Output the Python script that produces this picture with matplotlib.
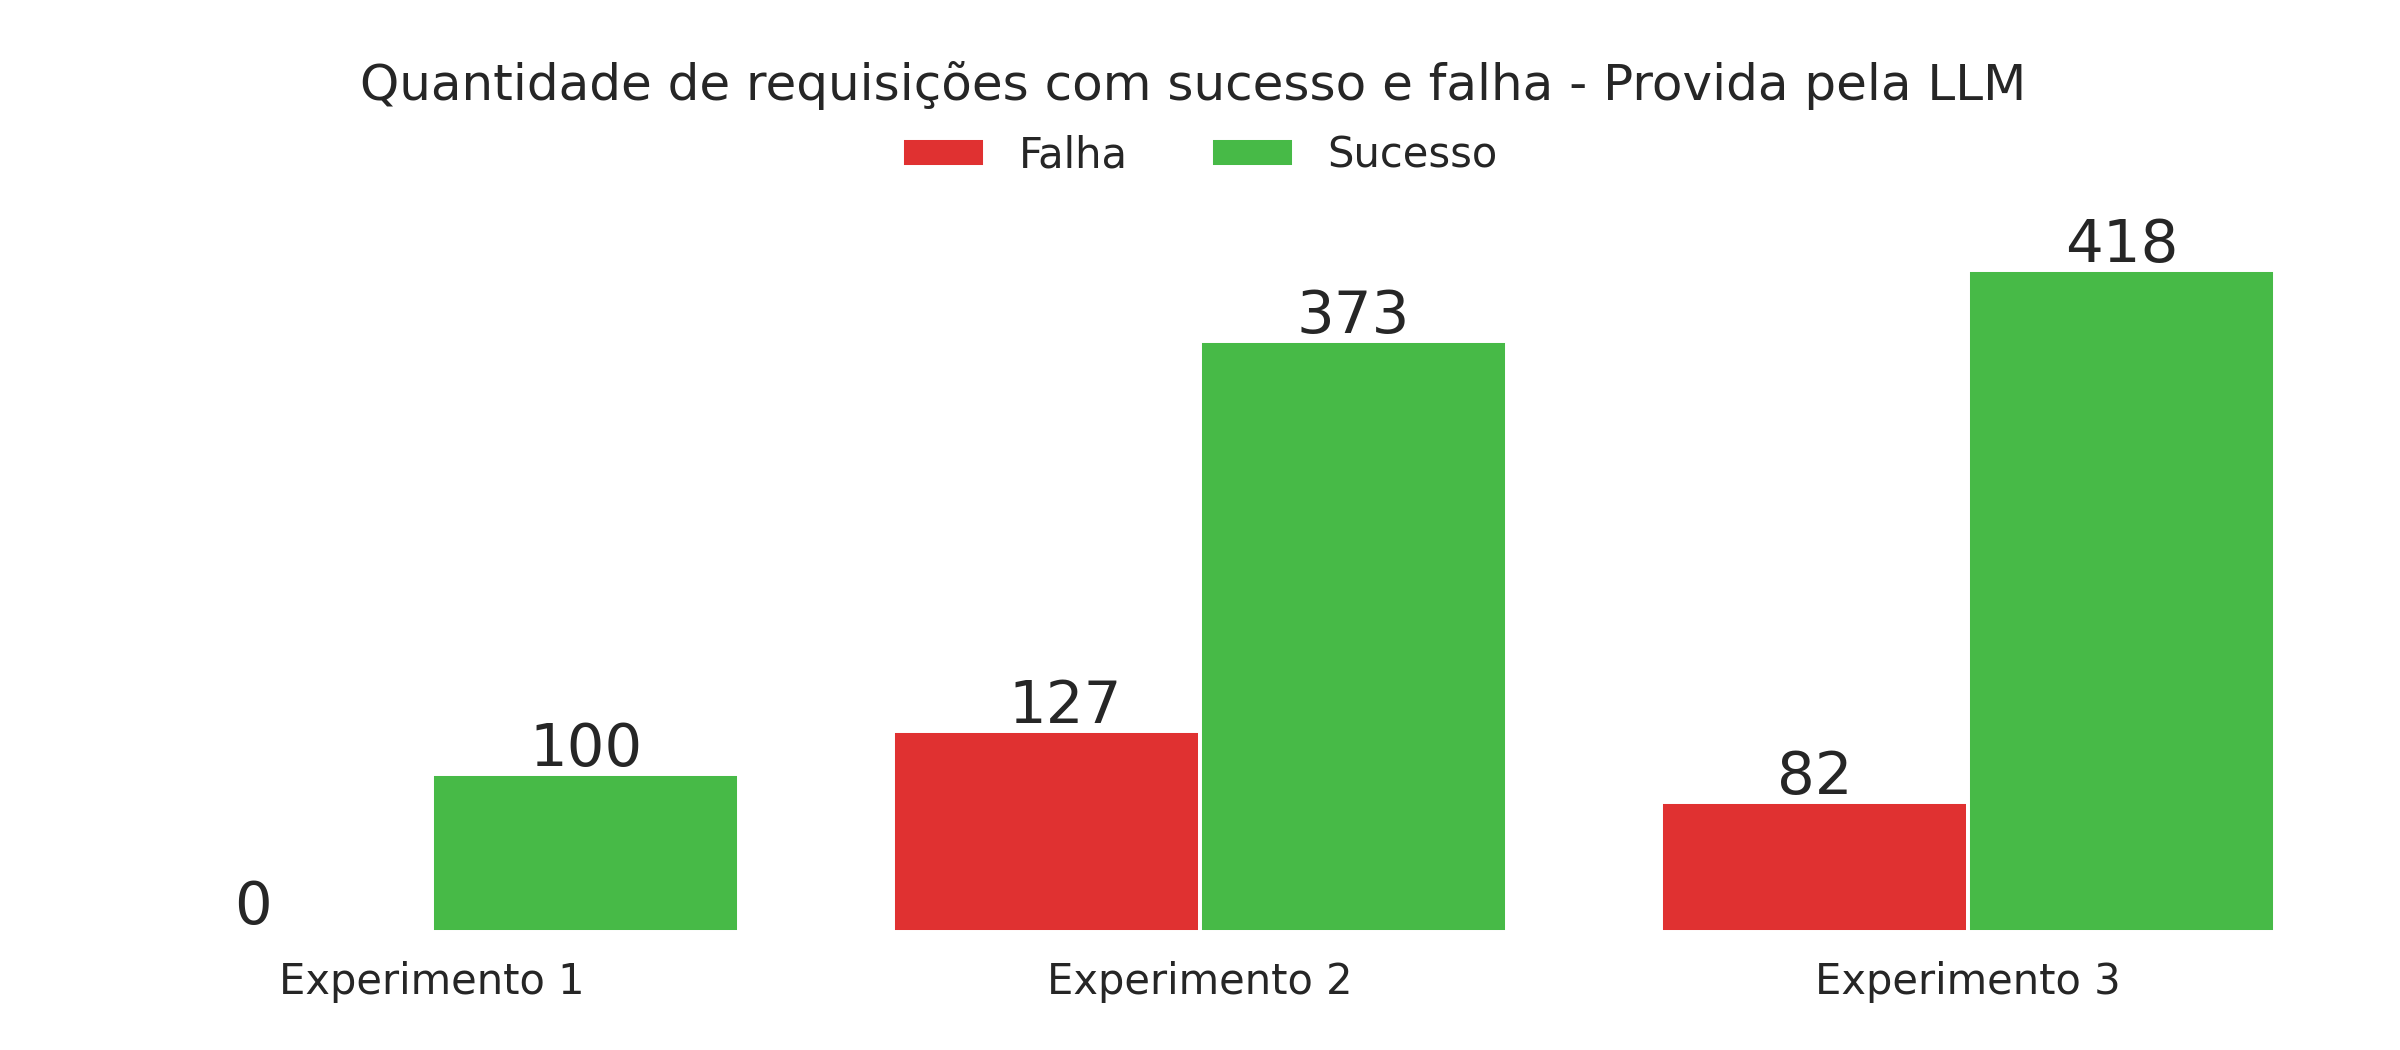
import numpy as np
import matplotlib.pyplot as plt

# Data
categorias = ['Experimento 1', 'Experimento 2', 'Experimento 3']
falha = [0, 127, 82]
sucesso = [100, 373, 418]
series_nomes = ['Falha', 'Sucesso']
cores = ['#E03131', '#47BA47']

texto_cor = '#262626'
plt.rcParams['font.family'] = ['DejaVu Sans']

fig = plt.figure(figsize=(16, 7), dpi=150)
ax = fig.add_axes([0.02, 0.1124, 0.96, 0.6533])

x = np.arange(len(categorias))
largura = 0.4
barras_f = ax.bar(x - largura / 2, falha, largura, color=cores[0],
                  edgecolor='white', linewidth=1.9, label=series_nomes[0])
barras_s = ax.bar(x + largura / 2, sucesso, largura, color=cores[1],
                  edgecolor='white', linewidth=1.9, label=series_nomes[1])

# value labels (small horizontal quirks of the original kept)
desloc_f = [-12, 9, 0]
for b, v, dx in zip(barras_f, falha, desloc_f):
    ax.annotate(str(v), (b.get_x() + b.get_width() / 2, v), xytext=(dx, -2),
                textcoords='offset points', ha='center', va='bottom',
                fontsize=28.5, color=texto_cor)
for b, v in zip(barras_s, sucesso):
    ax.annotate(str(v), (b.get_x() + b.get_width() / 2, v), xytext=(0, -2),
                textcoords='offset points', ha='center', va='bottom',
                fontsize=28.5, color=texto_cor)

ax.set_xlim(-0.5, 2.5)
ax.set_ylim(0, 433)
ax.set_xticks(x)
ax.set_xticklabels(categorias, fontsize=20, color=texto_cor)
ax.tick_params(axis='x', length=0, pad=14)
ax.set_yticks([])
for s in ax.spines.values():
    s.set_visible(False)

fig.text(0.497, 0.919, 'Quantidade de requisições com sucesso e falha - Provida pela LLM',
         ha='center', va='center', fontsize=24, color=texto_cor)
leg = fig.legend(loc='center', bbox_to_anchor=(0.5, 0.852), ncol=2, frameon=False,
                 fontsize=20, columnspacing=2.0)
for t in leg.get_texts():
    t.set_color(texto_cor)

fig.savefig('out.png', dpi=150)
